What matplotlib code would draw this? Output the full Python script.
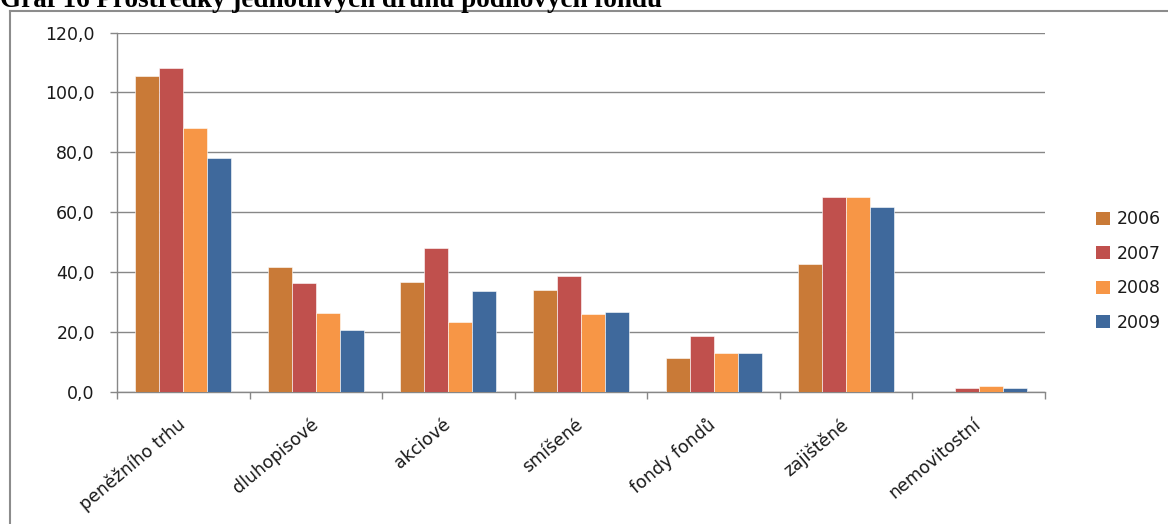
import matplotlib
matplotlib.use("Agg")
import matplotlib.pyplot as plt
from matplotlib.patches import Patch
from matplotlib.lines import Line2D
from matplotlib.ticker import FuncFormatter
import numpy as np

# Assets of unit-trust fund categories (CZK bn)
categories = ["peněžního trhu", "dluhopisové", "akciové", "smíšené",
              "fondy fondů", "zajištěné", "nemovitostní"]
years = ["2006", "2007", "2008", "2009"]
v2006 = [105.5, 41.7, 36.7, 34.0, 11.2, 42.8, 0.0]
v2007 = [108.1, 36.3, 48.0, 38.7, 18.6, 65.0, 1.2]
v2008 = [88.1, 26.3, 23.3, 26.0, 12.9, 65.2, 1.9]
v2009 = [78.0, 20.6, 33.6, 26.6, 12.9, 61.7, 1.2]
series = [v2006, v2007, v2008, v2009]
colors = ["#C97A37", "#C0504D", "#F79646", "#3F699C"]
title = "Graf 16 Prostředky jednotlivých druhů podílových fondů"

W, H = 1168, 524
fig = plt.figure(figsize=(W / 100, H / 100), dpi=100)
fig.patch.set_facecolor("white")

plt.rcParams["font.family"] = ["DejaVu Sans"]
grid_col = "#878787"
fs = 12.5

ax = fig.add_axes([117 / W, 1 - 391.7 / H, (1045 - 117) / W, (391.7 - 32.5) / H])

n = len(categories)
x = np.arange(n) + 0.5
bw = 0.181
for i, (vals, col, yr) in enumerate(zip(series, colors, years)):
    ax.bar(x + (i - 1.5) * bw, vals, width=bw, color=col, label=yr,
           edgecolor="white", linewidth=0.4, zorder=3)

ax.set_xlim(0, n)
ax.set_ylim(0, 120)
ax.set_yticks(np.arange(0, 121, 20))
ax.yaxis.set_major_formatter(FuncFormatter(lambda v, p: f"{v:.1f}".replace(".", ",")))
ax.grid(axis="y", color=grid_col, linewidth=1.0, zorder=0)
ax.set_axisbelow(True)

for s in ["top", "right"]:
    ax.spines[s].set_visible(False)
for s in ["left", "bottom"]:
    ax.spines[s].set_color(grid_col)
    ax.spines[s].set_linewidth(1.0)

ax.tick_params(axis="y", direction="out", length=5, width=1, color=grid_col,
               pad=11, labelsize=fs, labelcolor="#1a1a1a")
ax.set_xticks(np.arange(n + 1))
ax.set_xticklabels([])
ax.tick_params(axis="x", which="major", direction="out", length=5, width=1, color=grid_col)
ax.set_xticks(x, minor=True)
ax.set_xticklabels(categories, minor=True, rotation=40, ha="right", va="center",
                   rotation_mode="anchor", fontsize=fs, color="#1a1a1a")
ax.tick_params(axis="x", which="minor", length=0, pad=22)

handles = [Patch(facecolor=c, edgecolor="none") for c in colors]
fig.legend(handles, years, loc="center left", bbox_to_anchor=(1080 / W, 1 - 271 / H),
           frameon=False, fontsize=fs, handlelength=0.8, handleheight=0.8,
           handletextpad=0.4, labelspacing=0.95, labelcolor="#1a1a1a")

# outer frame of the chart object
frame_col = "#8c8c8c"
fig.add_artist(Line2D([10 / W, 10 / W], [0, 1 - 11 / H], color=frame_col, linewidth=1.5,
                      transform=fig.transFigure))
fig.add_artist(Line2D([10 / W, 1], [1 - 11 / H, 1 - 11 / H], color=frame_col, linewidth=1.5,
                      transform=fig.transFigure))

fig.text(0, 1 - 7 / H, title, fontsize=19.5, fontweight="bold",
         family=["Liberation Serif", "DejaVu Serif"], va="baseline", ha="left")

fig.savefig("out.png", dpi=100)
